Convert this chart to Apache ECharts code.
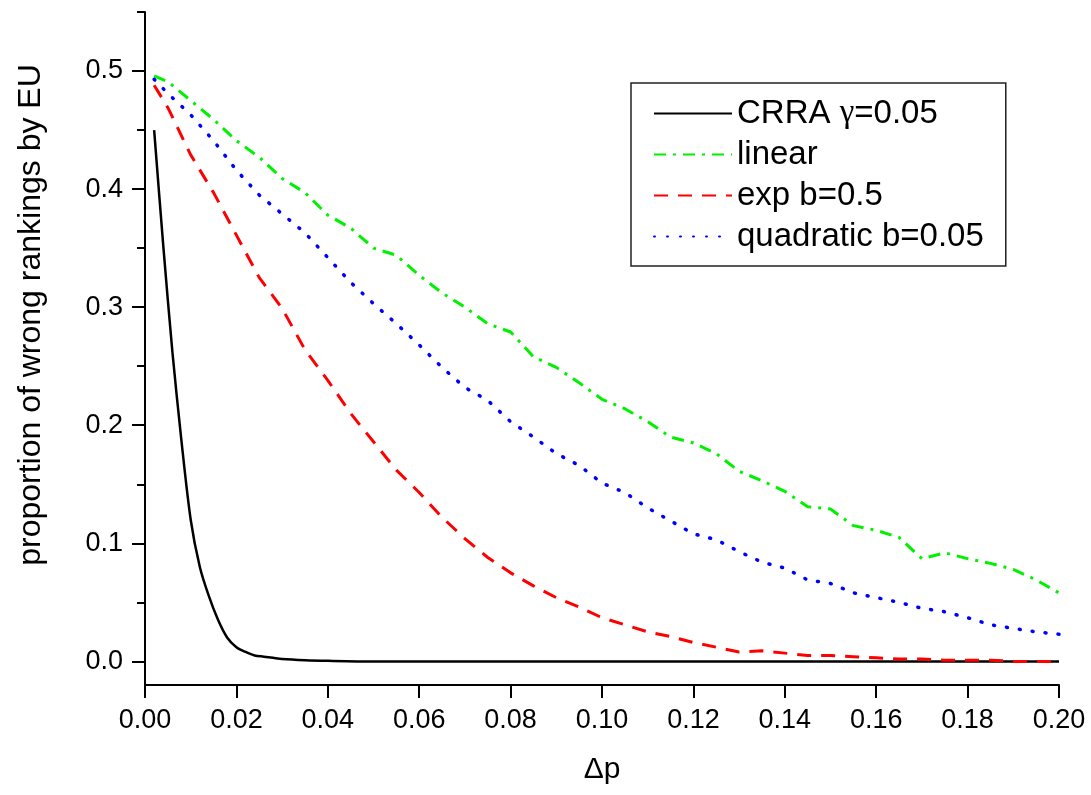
<!DOCTYPE html>
<html lang="en">
<head>
    <meta charset="UTF-8">
    <title>wrong rankings by EU</title>
    <script src="https://cdn.jsdelivr.net/npm/echarts@6/dist/echarts.min.js"></script>
    <style>
        html, body { margin: 0; padding: 0; background: #fff; }
        #chart { width: 1091px; height: 795px; }
    </style>
</head>
<body>
    <div id="chart"></div>
    <script>
        // CRRA gamma=0.05 (black, solid)
        var crraX = [0.002, 0.004, 0.006, 0.008, 0.010, 0.012, 0.014, 0.016, 0.018, 0.020, 0.022, 0.024, 0.026, 0.028, 0.030, 0.035, 0.040, 0.050, 0.060, 0.080, 0.100, 0.120, 0.140, 0.160, 0.180, 0.200];
        var crraY = [0.450, 0.352, 0.262, 0.186, 0.120, 0.080, 0.055, 0.035, 0.020, 0.012, 0.008, 0.005, 0.004, 0.003, 0.002, 0.001, 0.0005, 0, 0, 0, 0, 0, 0, 0, 0, 0];

        // shared grid for the other three curves
        var dp = [0.002, 0.005, 0.010, 0.015, 0.020, 0.025, 0.030, 0.035, 0.040, 0.045, 0.050, 0.055, 0.060, 0.065, 0.070, 0.075, 0.080, 0.085, 0.090, 0.095,
                  0.100, 0.105, 0.110, 0.115, 0.120, 0.125, 0.130, 0.135, 0.140, 0.145, 0.150, 0.155, 0.160, 0.165, 0.170, 0.175, 0.180, 0.185, 0.190, 0.195, 0.200];
        var linearY = [0.496, 0.491, 0.475, 0.459, 0.441, 0.427, 0.409, 0.397, 0.378, 0.367, 0.350, 0.344, 0.327, 0.312, 0.300, 0.286, 0.279, 0.258, 0.249, 0.236,
                       0.222, 0.214, 0.203, 0.190, 0.185, 0.176, 0.161, 0.153, 0.144, 0.131, 0.129, 0.115, 0.111, 0.105, 0.087, 0.092, 0.087, 0.083, 0.078, 0.069, 0.058];
        var expY = [0.488, 0.469, 0.429, 0.397, 0.361, 0.325, 0.299, 0.264, 0.238, 0.210, 0.186, 0.162, 0.143, 0.122, 0.104, 0.088, 0.075, 0.064, 0.054, 0.046,
                    0.037, 0.031, 0.025, 0.021, 0.016, 0.012, 0.008, 0.009, 0.007, 0.005, 0.005, 0.004, 0.003, 0.002, 0.002, 0.001, 0.001, 0.001, 0, 0, 0];
        var quadY = [0.493, 0.481, 0.463, 0.441, 0.416, 0.395, 0.379, 0.363, 0.342, 0.321, 0.303, 0.286, 0.268, 0.249, 0.232, 0.221, 0.203, 0.190, 0.176, 0.166,
                     0.151, 0.143, 0.130, 0.119, 0.108, 0.103, 0.093, 0.084, 0.079, 0.069, 0.066, 0.058, 0.054, 0.050, 0.045, 0.042, 0.037, 0.031, 0.028, 0.025, 0.023];

        var yLabels = [0, 0.1, 0.2, 0.3, 0.4, 0.5];
        var yMinor = [0.05, 0.15, 0.25, 0.35, 0.45, 0.55];

        function pairs(xs, ys) {
            return xs.map(function (x, i) { return [x, ys[i]]; });
        }

        var font = '"Liberation Sans", Arial, sans-serif';
        var myChart = echarts.init(document.getElementById('chart'));
        var option = {
            animation: false,
            backgroundColor: '#fff',
            grid: { left: 145, right: 32, top: 12, bottom: 110, containLabel: false },
            graphic: [{
                type: 'text',
                x: 31,
                y: 315,
                rotation: Math.PI / 2,
                style: {
                    text: 'proportion of wrong rankings by EU',
                    font: '32px ' + font,
                    fill: '#000',
                    align: 'center',
                    verticalAlign: 'middle'
                }
            }],
            legend: {
                orient: 'vertical',
                left: 631,
                top: 83,
                padding: [14, 22, 13, 22],
                itemWidth: 78,
                itemHeight: 12,
                itemGap: 8,
                borderColor: '#222',
                borderWidth: 1.5,
                itemStyle: { opacity: 0 },
                data: ['CRRA γ=0.05', 'linear', 'exp b=0.5', 'quadratic b=0.05'],
                formatter: function (name) {
                    return name.replace('γ', '{g|γ}');
                },
                textStyle: {
                    fontFamily: font,
                    fontSize: 33,
                    lineHeight: 32,
                    color: '#000',
                    rich: {
                        g: { fontFamily: '"Liberation Serif", serif', fontSize: 33, lineHeight: 32, color: '#000' }
                    }
                }
            },
            xAxis: {
                type: 'value',
                min: 0,
                max: 0.2,
                interval: 0.02,
                name: 'Δp',
                nameLocation: 'middle',
                nameGap: 70,
                nameTextStyle: { fontFamily: font, fontSize: 30, color: '#000' },
                axisLine: { onZero: false, lineStyle: { color: '#000', width: 2 } },
                axisTick: { inside: false, length: 13, lineStyle: { color: '#000', width: 2 } },
                axisLabel: {
                    margin: 22,
                    fontFamily: font,
                    fontSize: 27,
                    color: '#000',
                    formatter: function (v) { return v.toFixed(2); }
                },
                splitLine: { show: false }
            },
            yAxis: [{
                type: 'value',
                min: -0.02,
                max: 0.55,
                axisLine: { show: true, lineStyle: { color: '#000', width: 2 } },
                axisTick: { show: true, length: 13, customValues: yLabels, lineStyle: { color: '#000', width: 2 } },
                axisLabel: {
                    margin: 22,
                    fontFamily: font,
                    fontSize: 27,
                    color: '#000',
                    customValues: yLabels,
                    formatter: function (v) { return v.toFixed(1); }
                },
                splitLine: { show: false }
            }, {
                // minor ticks only
                type: 'value',
                position: 'left',
                min: -0.02,
                max: 0.55,
                axisLine: { show: false },
                axisTick: { show: true, length: 8, customValues: yMinor, lineStyle: { color: '#000', width: 2 } },
                axisLabel: { show: false },
                splitLine: { show: false }
            }],
            series: [{
                name: 'CRRA γ=0.05',
                type: 'line',
                symbol: 'none',
                smooth: 0.3,
                color: '#000',
                lineStyle: { color: '#000', width: 2.5 },
                data: pairs(crraX, crraY)
            }, {
                name: 'linear',
                type: 'line',
                symbol: 'none',
                color: '#00f000',
                lineStyle: { color: '#00f000', width: 3, type: [12, 7, 3, 7] },
                data: pairs(dp, linearY)
            }, {
                name: 'exp b=0.5',
                type: 'line',
                symbol: 'none',
                color: '#ff0000',
                lineStyle: { color: '#ff0000', width: 3, type: [14, 10] },
                data: pairs(dp, expY)
            }, {
                name: 'quadratic b=0.05',
                type: 'line',
                symbol: 'none',
                color: '#0000ff',
                lineStyle: { color: '#0000ff', width: 3.5, type: [1, 12], cap: 'round' },
                data: pairs(dp, quadY)
            }]
        };
        myChart.setOption(option);
    </script>
</body>
</html>
